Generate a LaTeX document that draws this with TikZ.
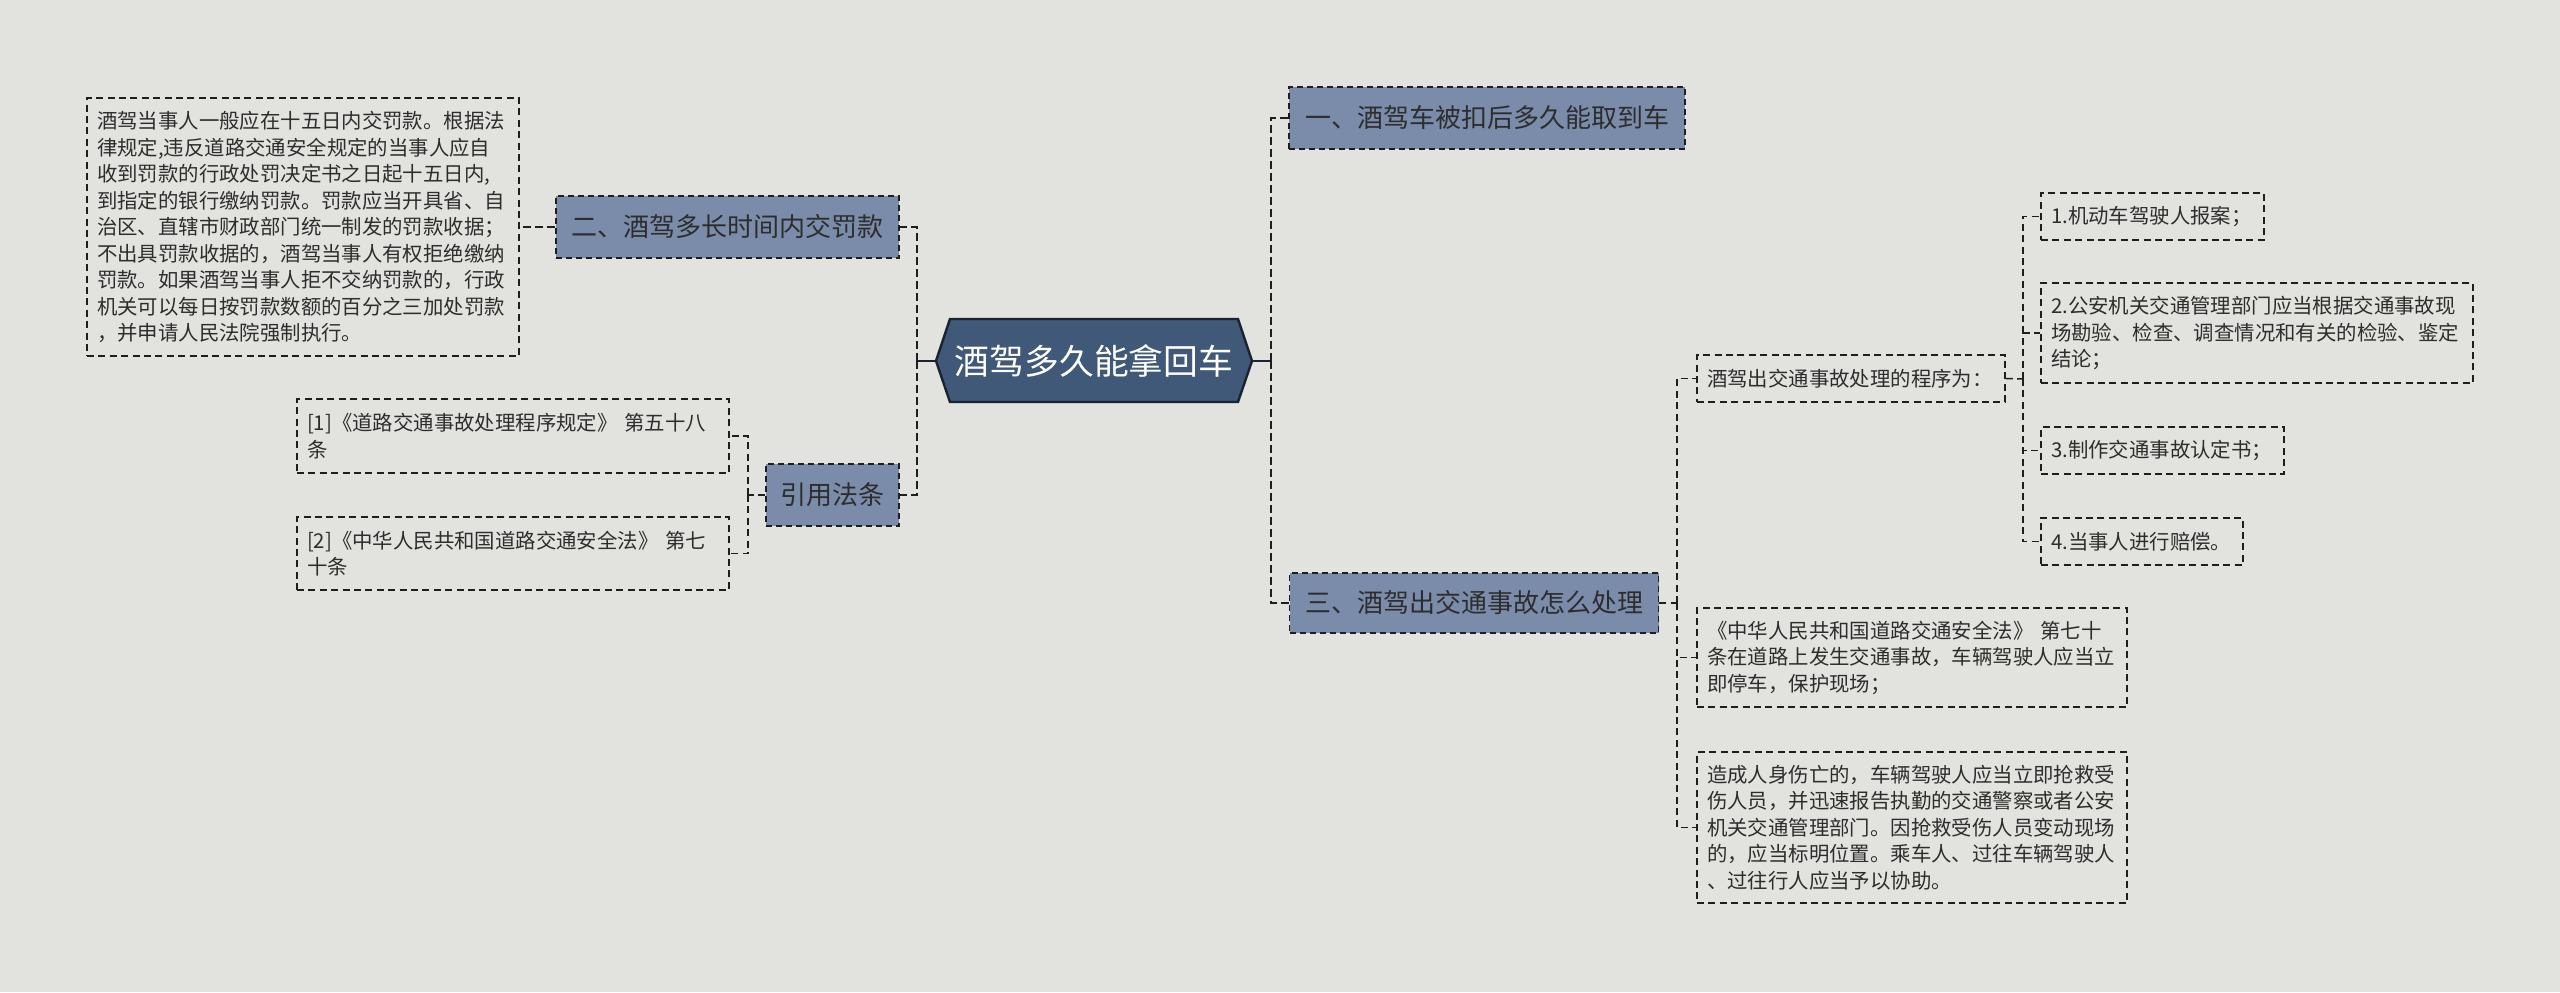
\documentclass[tikz,border=0pt]{standalone}
\usepackage{fontspec}
\setmainfont{Noto Sans CJK SC}
\usetikzlibrary{calc}
\definecolor{bgc}{RGB}{226,227,223}
\definecolor{mainfill}{RGB}{122,140,170}
\definecolor{rootfill}{RGB}{64,89,120}
\definecolor{rootline}{RGB}{25,35,50}
\definecolor{txt}{RGB}{45,45,45}
\definecolor{linec}{RGB}{30,30,30}
\begin{document}
\begin{tikzpicture}[x=0.5pt,y=-0.5pt,
  mainbox/.style={draw=linec, fill=mainfill, line width=0.9pt, dash pattern=on 3pt off 2pt,
    font=\fontsize{13}{16}\selectfont, text=txt, inner xsep=7pt, inner ysep=0pt, minimum height=31pt},
  leaf/.style={draw=linec, line width=0.75pt, dash pattern=on 3.5pt off 2.2pt,
    font=\fontsize{10.2}{13.25}\selectfont, text=txt, align=left, inner xsep=5pt, inner ysep=0pt},
  link/.style={draw=linec, line width=1.2pt, dash pattern=on 4pt off 2pt},
  thinlink/.style={draw=linec, line width=0.75pt, dash pattern=on 3.5pt off 2.2pt},
  rootlink/.style={draw=rootline, line width=1.3pt},
  roottext/.style={font=\fontsize{17.4}{20}\selectfont, text=white, inner sep=0pt},
  rootshape/.style={fill=rootfill, draw=rootline, line width=1.2pt, line join=miter},
]
\fill[bgc] (0,0) rectangle (2560,992);
\useasboundingbox (0,0) rectangle (2560,992);

% root
\coordinate (rootL) at (936,361);
\coordinate (rootR) at (1252,361);
\filldraw[rootshape] (950,319) -- (1238,319) -- (rootR) -- (1238,402) -- (950,402) -- (rootL) -- cycle;
\node[roottext] (root) at (1094,361) {酒驾多久能拿回车};

% main nodes
\node[mainbox, minimum width=198pt] (n1) at (1487,118) {一、酒驾车被扣后多久能取到车};
\node[mainbox, minimum width=171.5pt] (n2) at (727.5,227) {二、酒驾多长时间内交罚款};
\node[mainbox, minimum width=66.5pt] (cite) at (832.5,495) {引用法条};
\node[mainbox, minimum width=184.5pt, minimum height=30pt] (n3) at (1474,603) {三、酒驾出交通事故怎么处理};

% leaves left
\node[leaf, text width=206pt, minimum height=129pt] (t2) at (303,227) {酒驾当事人一般应在十五日内交罚款。根据法\\律规定,违反道路交通安全规定的当事人应自\\收到罚款的行政处罚决定书之日起十五日内,\\到指定的银行缴纳罚款。罚款应当开具省、自\\治区、直辖市财政部门统一制发的罚款收据；\\不出具罚款收据的，酒驾当事人有权拒绝缴纳\\罚款。如果酒驾当事人拒不交纳罚款的，行政\\机关可以每日按罚款数额的百分之三加处罚款\\，并申请人民法院强制执行。};
\node[leaf, text width=206pt, minimum height=37pt] (ref1) at (513,436) {[1]《道路交通事故处理程序规定》 第五十八\\条};
\node[leaf, text width=206pt, minimum height=36.5pt] (ref2) at (513,553.5) {[2]《中华人民共和国道路交通安全法》 第七\\十条};

% leaves right
\node[leaf, text width=144pt, minimum height=23.5pt] (proc) at (1851,378.5) {酒驾出交通事故处理的程序为：};
\node[leaf, text width=205pt, minimum height=49.5pt] (law) at (1912,657.5) {《中华人民共和国道路交通安全法》 第七十\\条在道路上发生交通事故，车辆驾驶人应当立\\即停车，保护现场；};
\node[leaf, text width=205pt, minimum height=75.5pt] (injure) at (1912,827.5) {造成人身伤亡的，车辆驾驶人应当立即抢救受\\伤人员，并迅速报告执勤的交通警察或者公安\\机关交通管理部门。因抢救受伤人员变动现场\\的，应当标明位置。乘车人、过往车辆驾驶人\\、过往行人应当予以协助。};
\node[leaf, text width=101.5pt, minimum height=23.5pt] (s1) at (2152.5,216.5) {1.机动车驾驶人报案；};
\node[leaf, text width=206pt, minimum height=50pt] (s2) at (2257,333) {2.公安机关交通管理部门应当根据交通事故现\\场勘验、检查、调查情况和有关的检验、鉴定\\结论；};
\node[leaf, text width=111.5pt, minimum height=23.5pt] (s3) at (2162.5,450.5) {3.制作交通事故认定书；};
\node[leaf, text width=91pt, minimum height=23.5pt] (s4) at (2142,541.5) {4.当事人进行赔偿。};

% connectors
\coordinate (lt) at (917,361);
\coordinate (rt) at (1271,361);
\draw[rootlink] (rootL) -- (lt);
\draw[rootlink] (rootR) -- (rt);
\draw[link] (lt) |- (n2.east);
\draw[link] (lt) |- (cite.east);
\draw[link] (rt) |- (n1.west);
\draw[link] (rt) |- (n3.west);
\draw[link] (n2.west) -- (t2.east);

\coordinate (ct) at (748,495);
\draw[thinlink] (cite.west) -- (ct);
\draw[thinlink] (ct) |- (ref1.east);
\draw[thinlink] (ct) |- (ref2.east);

\coordinate (t3) at (1677,603);
\draw[thinlink] (n3.east) -- (t3);
\draw[thinlink] (t3) |- (proc.west);
\draw[thinlink] (t3) |- (law.west);
\draw[thinlink] (t3) |- (injure.west);

\coordinate (t4) at (2023,379);
\draw[thinlink] (proc.east) -- (t4);
\draw[thinlink] (t4) |- (s1.west);
\draw[thinlink] (t4) |- (s2.west);
\draw[thinlink] (t4) |- (s3.west);
\draw[thinlink] (t4) |- (s4.west);
\end{tikzpicture}
\end{document}
